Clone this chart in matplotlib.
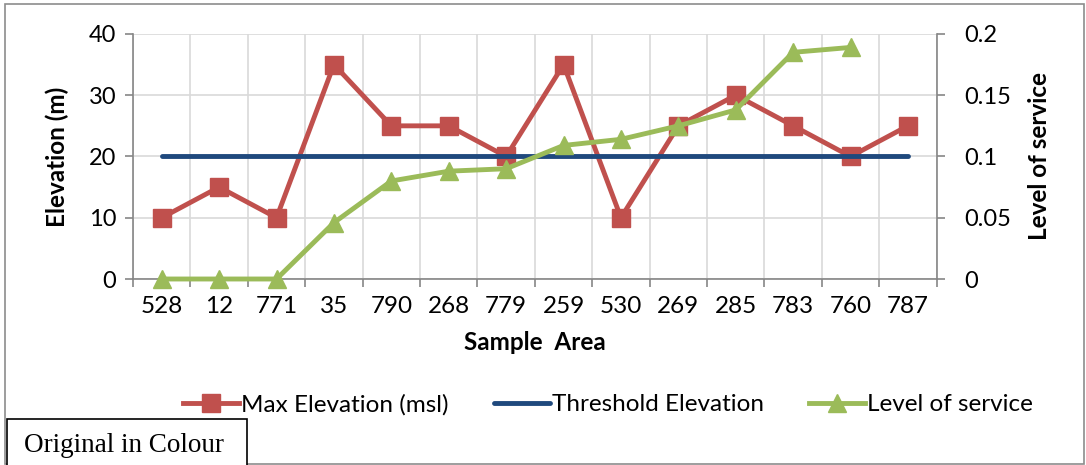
import matplotlib
matplotlib.use("Agg")
import matplotlib.pyplot as plt
from matplotlib.patches import Rectangle
import numpy as np

# Sample areas and measured values
areas = ["528", "12", "771", "35", "790", "268", "779", "259", "530", "269",
         "285", "783", "760", "787"]
max_elev = [10, 15, 10, 35, 25, 25, 20, 35, 10, 25, 30, 25, 20, 25]
threshold = [20] * 14
service = [0, 0, 0, 0.046, 0.080, 0.088, 0.090, 0.109, 0.114, 0.125,
           0.138, 0.185, 0.189, np.nan]

plt.rcParams["font.family"] = ["Lato", "DejaVu Sans"]

red = "#C0504D"
blue = "#1F497D"
green = "#9BBB59"
grid = "#D9D9D9"
axc = "#868686"

fig = plt.figure(figsize=(10.86, 4.65), dpi=100)
ax = fig.add_axes([0.1225, 0.40, 0.740, 0.527])
ax2 = ax.twinx()

x = np.arange(len(areas))
l1, = ax.plot(x, max_elev, "-s", color=red, lw=3.5, ms=13, label="Max Elevation (msl)")
l2, = ax.plot(x, threshold, "-", color=blue, lw=3.5, solid_capstyle="round",
              label="Threshold Elevation")
l3, = ax2.plot(x, service, "-^", color=green, lw=3.5, ms=13, clip_on=False,
               label="Level of service")

ax.set_xlim(-0.5, len(areas) - 0.5)
ax.set_ylim(0, 40)
ax.set_yticks([0, 10, 20, 30, 40])
ax2.set_ylim(0, 0.2)
ax2.set_yticks([0, 0.05, 0.1, 0.15, 0.2])
ax2.set_yticklabels(["0", "0.05", "0.1", "0.15", "0.2"])

# category labels centred, ticks on the boundaries
ax.set_xticks(x)
ax.set_xticklabels(areas)
ax.set_xticks(np.arange(-0.5, len(areas)), minor=True)
ax.tick_params(axis="x", which="major", length=0, labelsize=17.5, pad=12)
ax.tick_params(axis="x", which="minor", length=6, color=axc, width=1.2)
ax.tick_params(axis="y", labelsize=17, length=6, color=axc, width=1.2, pad=6)
ax2.tick_params(axis="y", labelsize=17, length=6, color=axc, width=1.2, pad=14)

ax.grid(True, which="minor", axis="x", color=grid, lw=1.2)
ax.grid(True, which="major", axis="y", color=grid, lw=1.2)
ax.set_axisbelow(True)

for a in (ax, ax2):
    a.spines["top"].set_visible(False)
    for s in ("left", "right", "bottom"):
        a.spines[s].set_color(axc)
        a.spines[s].set_linewidth(1.2)
ax.spines["right"].set_visible(False)
ax2.spines["left"].set_visible(False)
ax2.spines["bottom"].set_visible(False)

ax.set_xlabel("Sample  Area", fontsize=17.5, fontweight="bold", labelpad=10)
ax.set_ylabel("Elevation (m)", fontsize=17.5, fontweight="bold", labelpad=14)
ax2.set_ylabel("Level of service", fontsize=17.5, fontweight="bold", labelpad=12)

fig.legend(handles=[l1, l2, l3], loc="center", bbox_to_anchor=(0.56, 0.13),
           ncol=3, frameon=False, fontsize=17.5, handlelength=2.3,
           handletextpad=0.1, columnspacing=1.85)

# outer chart frame and caption box
fig.patches.append(Rectangle((0.005, 0.002), 0.993, 0.99, transform=fig.transFigure,
                             fill=False, ec="#8C8C8C", lw=1.2))
fig.patches.append(Rectangle((0.0065, -0.01), 0.221, 0.109, transform=fig.transFigure,
                             fc="white", ec="black", lw=1.2))
fig.text(0.1137, 0.041, "Original in Colour", ha="center", va="center",
         fontsize=19.5, family="Liberation Serif")

fig.savefig("out.png", dpi=100)
